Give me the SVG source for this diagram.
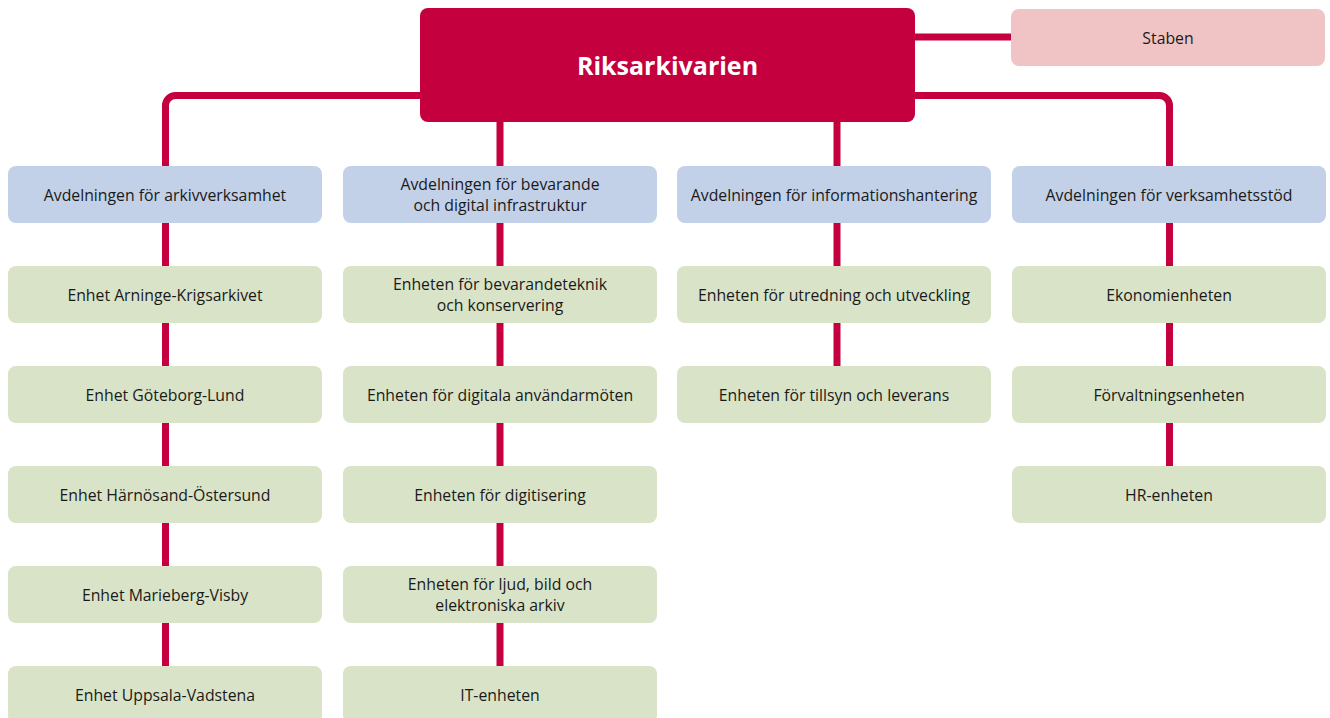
<svg xmlns="http://www.w3.org/2000/svg" width="1330" height="718" viewBox="0 0 1330 718">
<style>
.t{font-family:"Open Sans","Noto Sans",sans-serif;font-size:15.8px;fill:#1a1a1a;text-anchor:middle}
.top{fill:#C4003F}
.st{fill:#F0C4C5}
.dep{fill:#C2D0E8}
.unit{fill:#D9E3C7}
.c{fill:none;stroke:#C4003F;stroke-width:7}
</style>
<rect width="1330" height="718" fill="#fff"/>
<g id="connectors">
<path class="c" d="M915 37H1011"/>
<path class="c" d="M420 95.5H175.5a10 10 0 0 0 -10 10V666"/>
<path class="c" d="M915 95.5H1159.5a10 10 0 0 1 10 10V466"/>
<path class="c" d="M500 122V666"/>
<path class="c" d="M837 122V366"/>
</g>
<g id="riksarkivarien"><rect class="top" x="420" y="8" width="495" height="114" rx="8"/><text x="667.5" y="75" style="font-family:'Open Sans','Noto Sans',sans-serif;font-size:25px;font-weight:bold;fill:#fff;text-anchor:middle">Riksarkivarien</text></g>
<g id="staben"><rect class="st" x="1011" y="9" width="314" height="57" rx="8"/><text class="t" x="1168" y="44">Staben</text></g>
<g id="avd1"><rect class="dep" x="8" y="166" width="314" height="57" rx="8"/><text class="t" x="165" y="201">Avdelningen för arkivverksamhet</text></g>
<g id="avd2"><rect class="dep" x="343" y="166" width="314" height="57" rx="8"/><text class="t" x="500" y="190">Avdelningen för bevarande</text><text class="t" x="500" y="211">och digital infrastruktur</text></g>
<g id="avd3"><rect class="dep" x="677" y="166" width="314" height="57" rx="8"/><text class="t" x="834" y="201">Avdelningen för informationshantering</text></g>
<g id="avd4"><rect class="dep" x="1012" y="166" width="314" height="57" rx="8"/><text class="t" x="1169" y="201">Avdelningen för verksamhetsstöd</text></g>
<g id="u11"><rect class="unit" x="8" y="266" width="314" height="57" rx="8"/><text class="t" x="165" y="301">Enhet Arninge-Krigsarkivet</text></g>
<g id="u12"><rect class="unit" x="8" y="366" width="314" height="57" rx="8"/><text class="t" x="165" y="401">Enhet Göteborg-Lund</text></g>
<g id="u13"><rect class="unit" x="8" y="466" width="314" height="57" rx="8"/><text class="t" x="165" y="501">Enhet Härnösand-Östersund</text></g>
<g id="u14"><rect class="unit" x="8" y="566" width="314" height="57" rx="8"/><text class="t" x="165" y="601">Enhet Marieberg-Visby</text></g>
<g id="u15"><rect class="unit" x="8" y="666" width="314" height="57" rx="8"/><text class="t" x="165" y="701">Enhet Uppsala-Vadstena</text></g>
<g id="u21"><rect class="unit" x="343" y="266" width="314" height="57" rx="8"/><text class="t" x="500" y="290">Enheten för bevarandeteknik</text><text class="t" x="500" y="311">och konservering</text></g>
<g id="u22"><rect class="unit" x="343" y="366" width="314" height="57" rx="8"/><text class="t" x="500" y="401">Enheten för digitala användarmöten</text></g>
<g id="u23"><rect class="unit" x="343" y="466" width="314" height="57" rx="8"/><text class="t" x="500" y="501">Enheten för digitisering</text></g>
<g id="u24"><rect class="unit" x="343" y="566" width="314" height="57" rx="8"/><text class="t" x="500" y="590">Enheten för ljud, bild och</text><text class="t" x="500" y="611">elektroniska arkiv</text></g>
<g id="u25"><rect class="unit" x="343" y="666" width="314" height="57" rx="8"/><text class="t" x="500" y="701">IT-enheten</text></g>
<g id="u31"><rect class="unit" x="677" y="266" width="314" height="57" rx="8"/><text class="t" x="834" y="301">Enheten för utredning och utveckling</text></g>
<g id="u32"><rect class="unit" x="677" y="366" width="314" height="57" rx="8"/><text class="t" x="834" y="401">Enheten för tillsyn och leverans</text></g>
<g id="u41"><rect class="unit" x="1012" y="266" width="314" height="57" rx="8"/><text class="t" x="1169" y="301">Ekonomienheten</text></g>
<g id="u42"><rect class="unit" x="1012" y="366" width="314" height="57" rx="8"/><text class="t" x="1169" y="401">Förvaltningsenheten</text></g>
<g id="u43"><rect class="unit" x="1012" y="466" width="314" height="57" rx="8"/><text class="t" x="1169" y="501">HR-enheten</text></g>
</svg>
